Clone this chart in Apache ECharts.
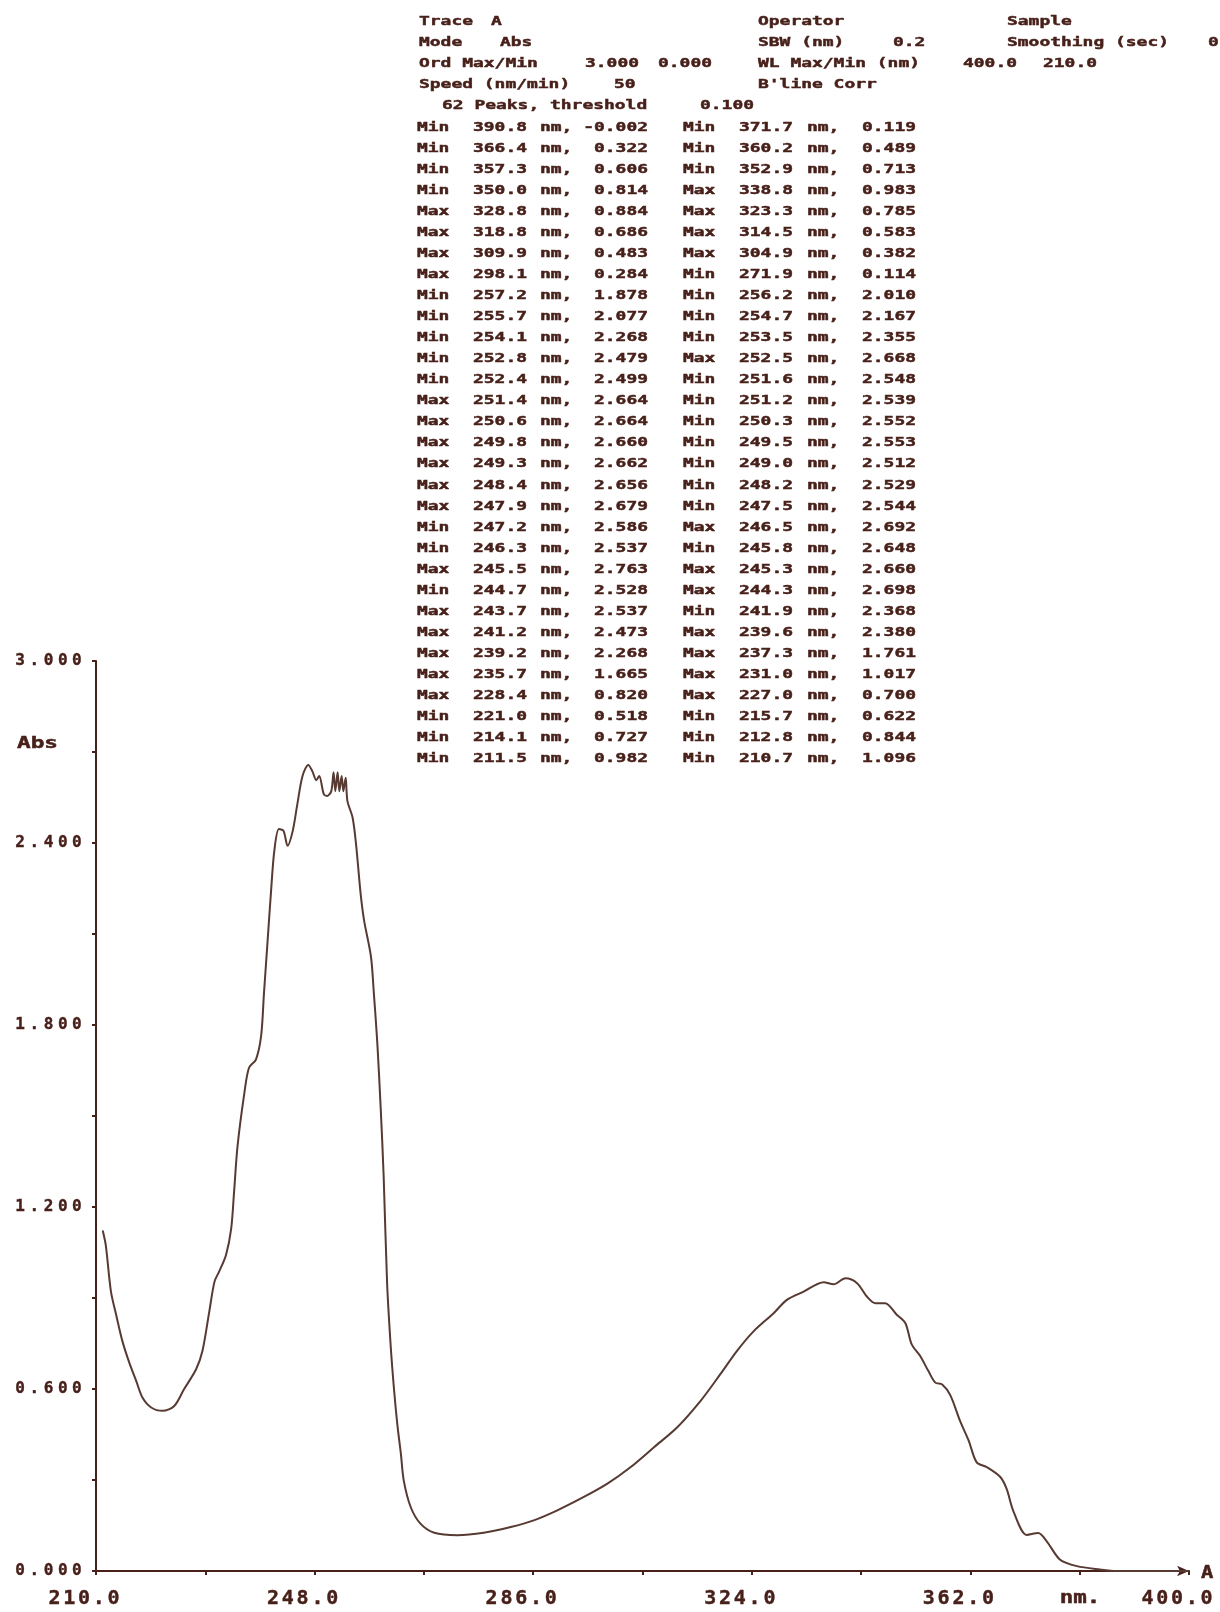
<!DOCTYPE html>
<html>
<head>
<meta charset="utf-8">
<script src="https://cdn.jsdelivr.net/npm/echarts@6/dist/echarts.min.js"></script>
<style>
  html, body { margin: 0; padding: 0; background: #ffffff; }
  #chart { width: 1220px; height: 1612px; }
</style>
</head>
<body>
<div id="chart"></div>
<script>
// ---- Spectrum trace (wavelength in nm, absorbance) ----
const wavelengthNm = [
  211.2, 211.7, 212.6, 213.5, 214.6, 215.8, 217.0, 218.1, 219.6, 221.6,
  223.6, 225.3, 227.4, 228.5, 229.7, 230.6, 231.4, 232.6, 233.5, 234.0,
  234.6, 235.8, 236.6, 237.8, 238.7, 239.2, 239.8, 240.4, 241.0, 241.8,
  242.6, 243.3, 244.2, 245.0, 245.9, 246.9, 247.6, 248.3, 248.8, 249.6,
  250.2, 250.9, 251.3, 251.6, 252.0, 252.3, 252.7, 253.0, 253.4, 253.7,
  254.6, 255.2, 256.0, 256.6, 257.8, 258.3, 258.9, 259.5, 260.0, 260.6,
  261.2, 261.8, 262.4, 263.0, 263.5, 264.7, 266.4, 268.8, 272.8, 277.4,
  282.1, 286.1, 290.2, 294.8, 298.9, 302.9, 307.0, 311.0, 315.1, 318.5,
  321.4, 324.3, 327.8, 330.1, 333.0, 336.5, 338.2, 340.3, 342.3, 344.0,
  345.5, 347.2, 349.2, 350.7, 351.8, 353.3, 354.7, 355.9, 357.1, 358.5,
  360.2, 361.7, 363.1, 364.9, 367.2, 368.3, 369.5, 371.8, 373.8, 375.3,
  377.6, 380.5, 384.5, 387.4, 392.0, 400.0
];
const absorbance = [
  1.120, 1.074, 0.921, 0.845, 0.757, 0.686, 0.626, 0.571, 0.539, 0.528,
  0.544, 0.599, 0.665, 0.725, 0.856, 0.954, 0.987, 1.042, 1.129, 1.249,
  1.400, 1.577, 1.659, 1.686, 1.763, 1.905, 2.069, 2.233, 2.375, 2.446,
  2.440, 2.391, 2.440, 2.528, 2.621, 2.657, 2.637, 2.607, 2.621, 2.561,
  2.555, 2.571, 2.633, 2.571, 2.633, 2.571, 2.621, 2.571, 2.615, 2.539,
  2.484, 2.397, 2.233, 2.145, 2.025, 1.905, 1.741, 1.522, 1.304, 0.950,
  0.750, 0.600, 0.480, 0.386, 0.298, 0.211, 0.156, 0.126, 0.118, 0.126,
  0.145, 0.167, 0.200, 0.244, 0.288, 0.342, 0.408, 0.473, 0.561, 0.648,
  0.725, 0.790, 0.850, 0.894, 0.921, 0.952, 0.945, 0.965, 0.949, 0.905,
  0.883, 0.883, 0.845, 0.817, 0.747, 0.708, 0.659, 0.621, 0.615, 0.580,
  0.495, 0.430, 0.358, 0.342, 0.310, 0.271, 0.196, 0.119, 0.125, 0.097,
  0.037, 0.016, 0.005, 0.000, 0.000, 0.000
];

// ---- Axis tick labels ----
const xTickLabels = [210, 248, 286, 324, 362, 400];
const yTickLabels = [0, 0.6, 1.2, 1.8, 2.4, 3.0];

// ---- Peak pick table, two columns ----
const peakKindLeft = ['Min','Min','Min','Min','Max','Max','Max','Max','Min','Min','Min','Min','Min','Max','Max','Max',
  'Max','Max','Max','Min','Min','Max','Min','Max','Max','Max','Max','Max','Min','Min','Min'];
const peakNmLeft = [390.8, 366.4, 357.3, 350.0, 328.8, 318.8, 309.9, 298.1, 257.2, 255.7, 254.1, 252.8, 252.4, 251.4, 250.6, 249.8,
  249.3, 248.4, 247.9, 247.2, 246.3, 245.5, 244.7, 243.7, 241.2, 239.2, 235.7, 228.4, 221.0, 214.1, 211.5];
const peakAbsLeft = [-0.002, 0.322, 0.606, 0.814, 0.884, 0.686, 0.483, 0.284, 1.878, 2.077, 2.268, 2.479, 2.499, 2.664, 2.664, 2.660,
  2.662, 2.656, 2.679, 2.586, 2.537, 2.763, 2.528, 2.537, 2.473, 2.268, 1.665, 0.820, 0.518, 0.727, 0.982];
const peakKindRight = ['Min','Min','Min','Max','Max','Max','Max','Min','Min','Min','Min','Max','Min','Min','Min','Min',
  'Min','Min','Min','Max','Min','Max','Max','Min','Max','Max','Max','Max','Min','Min','Min'];
const peakNmRight = [371.7, 360.2, 352.9, 338.8, 323.3, 314.5, 304.9, 271.9, 256.2, 254.7, 253.5, 252.5, 251.6, 251.2, 250.3, 249.5,
  249.0, 248.2, 247.5, 246.5, 245.8, 245.3, 244.3, 241.9, 239.6, 237.3, 231.0, 227.0, 215.7, 212.8, 210.7];
const peakAbsRight = [0.119, 0.489, 0.713, 0.983, 0.785, 0.583, 0.382, 0.114, 2.010, 2.167, 2.355, 2.668, 2.548, 2.539, 2.552, 2.553,
  2.512, 2.529, 2.544, 2.692, 2.648, 2.660, 2.698, 2.368, 2.380, 1.761, 1.017, 0.700, 0.622, 0.844, 1.096];

// ---- Instrument settings printed above the table ----
const ordMax = 3.000, ordMin = 0.000;
const wlMax = 400.0, wlMin = 210.0;
const slitBandwidth = '0.2';
const scanSpeed = '50';
const peakCount = 62, peakThreshold = 0.100;

// ---- Layout / styling ----
const INK = '#48201a';
const TRACE = '#573a32';
const PLOT_FONT = '"DejaVu Sans Mono", "Liberation Mono", monospace';
const STRETCH = 1.38;            // plotter characters are wide
const TEXT_FONT = 'bold 13px ' + PLOT_FONT;

function plotText(str, x, y, align, font, stretch) {
  return {
    type: 'text', x: x, y: y, scaleX: stretch || STRETCH, silent: true,
    style: {
      text: str, font: font || TEXT_FONT, fill: INK,
      stroke: INK, lineWidth: 0.45,
      align: align || 'left', verticalAlign: 'middle',
      textAlign: align || 'left', textVerticalAlign: 'middle'
    }
  };
}

// axis labels: one fixed-pitch cell per character, like the plotter's lettering
function pitched(str) {
  return str.split('').map(ch => '{c|' + ch + '}').join('');
}

const graphics = [];

// header block
const headerRowY = [22, 43, 64, 85, 106];
const headerCells = [
  ['Trace', 419, 0], ['A', 491, 0], ['Operator', 758, 0], ['Sample', 1007, 0],
  ['Mode', 419, 1], ['Abs', 500, 1], ['SBW (nm)', 758, 1], [slitBandwidth, 893, 1],
  ['Smoothing (sec)', 1007, 1], ['0', 1208, 1],
  ['Ord Max/Min', 419, 2], [ordMax.toFixed(3), 585, 2], [ordMin.toFixed(3), 658, 2],
  ['WL Max/Min (nm)', 758, 2], [wlMax.toFixed(1), 963, 2], [wlMin.toFixed(1), 1043, 2],
  ['Speed (nm/min)', 419, 3], [scanSpeed, 614, 3], ["B'line Corr", 758, 3],
  [peakCount + ' Peaks, threshold', 442, 4], [peakThreshold.toFixed(3), 700, 4]
];
headerCells.forEach(c => graphics.push(plotText(c[0], c[1], headerRowY[c[2]])));

// peak table
const tableTop = 127.3, rowStep = 21.05;
for (let i = 0; i < peakNmLeft.length; i++) {
  const y = tableTop + i * rowStep;
  graphics.push(plotText(peakKindLeft[i], 417, y));
  graphics.push(plotText(peakNmLeft[i].toFixed(1), 473, y));
  graphics.push(plotText('nm,', 540, y));
  graphics.push(plotText(peakAbsLeft[i].toFixed(3), 648, y, 'right'));
  graphics.push(plotText(peakKindRight[i], 683, y));
  graphics.push(plotText(peakNmRight[i].toFixed(1), 739, y));
  graphics.push(plotText('nm,', 807, y));
  graphics.push(plotText(peakAbsRight[i].toFixed(3), 916, y, 'right'));
}

// axis captions
graphics.push(plotText('Abs', 17, 744, 'left', 'bold 16px ' + PLOT_FONT, 1.42));
graphics.push(plotText('nm.', 1080, 1598, 'center', 'bold 18px ' + PLOT_FONT, 1.25));
graphics.push(plotText('A', 1201, 1574, 'left', 'bold 17px ' + PLOT_FONT, 1.2));

const spectrum = wavelengthNm.map((w, i) => [w, absorbance[i]]);

const chart = echarts.init(document.getElementById('chart'), null, { renderer: 'canvas' });
chart.setOption({
  backgroundColor: '#ffffff',
  animation: false,
  grid: { left: 96, right: 31, top: 661, bottom: 41, containLabel: false },
  xAxis: {
    type: 'value', min: 210, max: 400, interval: 19,
    axisLine: { show: true, symbol: ['none', 'arrow'], symbolSize: [8, 12],
      lineStyle: { color: INK, width: 2 } },
    axisTick: { show: true, length: 4, lineStyle: { color: INK, width: 2 } },
    splitLine: { show: false },
    axisLabel: {
      margin: 18, padding: [0, 24, 0, 0],
      rich: { c: { width: 14.8, align: 'center', color: INK, fontFamily: PLOT_FONT,
        fontWeight: 'bold', fontSize: 20, textBorderColor: INK, textBorderWidth: 0.4 } },
      formatter: v => xTickLabels.some(t => Math.abs(t - v) < 1e-6) ? pitched(v.toFixed(1)) : ''
    }
  },
  yAxis: {
    type: 'value', min: 0, max: 3, interval: 0.3,
    axisLine: { show: true, lineStyle: { color: INK, width: 2 } },
    axisTick: { show: true, length: 4, lineStyle: { color: INK, width: 2 } },
    splitLine: { show: false },
    axisLabel: {
      margin: 12,
      rich: { c: { width: 14.2, align: 'center', color: INK, fontFamily: PLOT_FONT,
        fontWeight: 'bold', fontSize: 16, textBorderColor: INK, textBorderWidth: 0.4 } },
      formatter: v => yTickLabels.some(t => Math.abs(t - v) < 1e-6) ? pitched(v.toFixed(3)) : ''
    }
  },
  series: [{
    type: 'line', data: spectrum, showSymbol: false, smooth: 0.3,
    lineStyle: { color: TRACE, width: 2, join: 'round', cap: 'round' },
    silent: true
  }],
  graphic: graphics
});
</script>
</body>
</html>
